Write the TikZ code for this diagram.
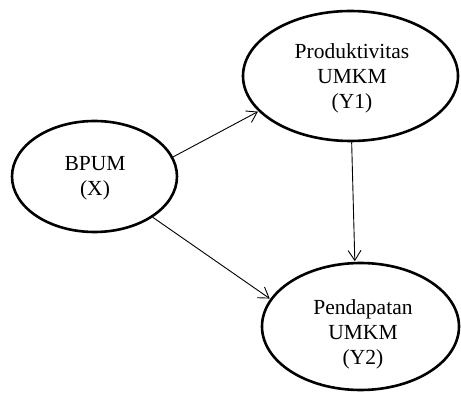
\documentclass[tikz,border=0pt]{standalone}
\usepackage{fontspec}
\setmainfont{Liberation Serif}
\usetikzlibrary{shapes.geometric,arrows.meta}
\begin{document}
\begin{tikzpicture}[x=1pt,y=-1pt,
  var/.style={draw=black, line width=2.6pt, ellipse, inner sep=0pt},
  lbl/.style={align=center, inner sep=0pt, font=\fontsize{21.5}{25}\selectfont},
  link/.style={draw=black, line width=0.9pt, -{Straight Barb[length=10pt,width=13pt,line width=0.9pt]}, shorten >=0.6pt}
]
\useasboundingbox (0,0) rectangle (461,393);
\node[var, minimum width=165pt, minimum height=111pt] (X) at (94.5,176.5) {};
\node[lbl] (Xt) at (95,178) {BPUM\\(X)};
\node[var, minimum width=215pt, minimum height=130pt] (Y1) at (350.5,76) {};
\node[lbl] (Y1t) at (352,78.5) {Produktivitas\\UMKM\\(Y1)};
\node[var, minimum width=197pt, minimum height=127pt] (Y2) at (360.5,326.5) {};
\node[lbl] (Y2t) at (363,334) {Pendapatan\\UMKM\\(Y2)};
\draw[link] (X.14) -- (Y1.201);
\draw[link] (X.-35) -- (Y2.163);
\draw[link] (Y1.-89) -- (Y2.95);
\end{tikzpicture}
\end{document}
